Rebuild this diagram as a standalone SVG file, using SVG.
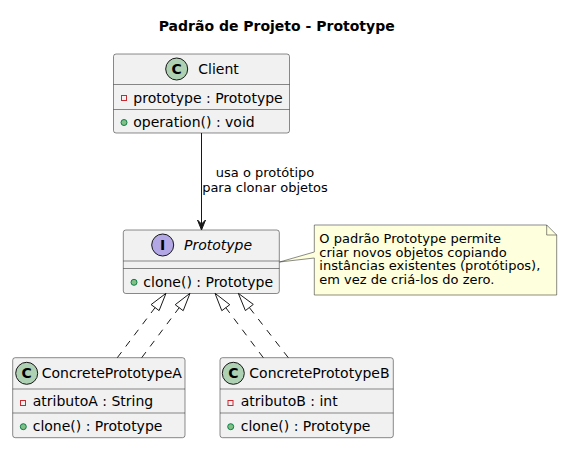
<svg xmlns="http://www.w3.org/2000/svg" width="574" height="465" viewBox="0 0 574 465">
<style>
text{font-family:"DejaVu Sans",sans-serif;fill:#000}
.box{fill:#F1F1F1;stroke:#181818;stroke-width:0.5}
.sep{stroke:#181818;stroke-width:0.5}
.m{font-size:14px}
.t{font-size:14px}
.n{font-size:13px}
.cc{fill:#ADD1B2;stroke:#181818;stroke-width:1}
.ci{fill:#B4A7E5;stroke:#181818;stroke-width:1}
.sym{font-size:14px;font-weight:bold;text-anchor:middle}
.priv{fill:none;stroke:#C82930;stroke-width:1}
.pub{fill:#84BE84;stroke:#038048;stroke-width:1}
.dash{fill:none;stroke:#181818;stroke-width:1;stroke-dasharray:7,7}
.tri{fill:none;stroke:#181818;stroke-width:1}
</style>
<text x="276.7" y="30.5" style="font-size:14px;font-weight:bold;text-anchor:middle">Padrão de Projeto - Prototype</text>

<g id="Client">
<rect class="box" x="113.5" y="54" width="176" height="79" rx="2.5"/>
<circle class="cc" cx="176.7" cy="69" r="11"/>
<text class="sym" x="176.7" y="74">C</text>
<text class="t" x="198.3" y="74">Client</text>
<line class="sep" x1="113.5" y1="84.5" x2="289.5" y2="84.5"/>
<rect class="priv" x="121.5" y="95.5" width="5" height="5"/>
<text class="m" x="133.3" y="103">prototype : Prototype</text>
<line class="sep" x1="113.5" y1="109.5" x2="289.5" y2="109.5"/>
<circle class="pub" cx="124" cy="122.5" r="3"/>
<text class="m" x="133.3" y="127">operation() : void</text>
</g>

<g id="Prototype">
<rect class="box" x="123.3" y="230" width="156" height="63.5" rx="2.5"/>
<circle class="ci" cx="162.7" cy="245" r="11"/>
<text class="sym" x="162.7" y="250">I</text>
<text class="t" x="184" y="250" font-style="italic">Prototype</text>
<line class="sep" x1="123.3" y1="261" x2="279.3" y2="261"/>
<line class="sep" x1="123.3" y1="268.5" x2="279.3" y2="268.5"/>
<circle class="pub" cx="134" cy="282.3" r="3"/>
<text class="m" x="143.3" y="287">clone() : Prototype</text>
</g>

<g id="ConcretePrototypeA">
<rect class="box" x="12.7" y="357.7" width="172.3" height="80" rx="2.5"/>
<circle class="cc" cx="26.7" cy="373.3" r="11"/>
<text class="sym" x="26.7" y="378.3">C</text>
<text class="t" x="41.7" y="378.3">ConcretePrototypeA</text>
<line class="sep" x1="12.7" y1="389" x2="185" y2="389"/>
<rect class="priv" x="20.5" y="400.5" width="5" height="5"/>
<text class="m" x="32.7" y="405.5">atributoA : String</text>
<line class="sep" x1="12.7" y1="413" x2="185" y2="413"/>
<circle class="pub" cx="23.3" cy="426.7" r="3"/>
<text class="m" x="32.7" y="431">clone() : Prototype</text>
</g>

<g id="ConcretePrototypeB">
<rect class="box" x="220" y="357.7" width="173.3" height="80" rx="2.5"/>
<circle class="cc" cx="233.3" cy="373.3" r="11"/>
<text class="sym" x="233.3" y="378.3">C</text>
<text class="t" x="249.3" y="378.3">ConcretePrototypeB</text>
<line class="sep" x1="220" y1="389" x2="393.3" y2="389"/>
<rect class="priv" x="228" y="400.5" width="5" height="5"/>
<text class="m" x="240.7" y="405.5">atributoB : int</text>
<line class="sep" x1="220" y1="413" x2="393.3" y2="413"/>
<circle class="pub" cx="230.7" cy="426.7" r="3"/>
<text class="m" x="240.7" y="431">clone() : Prototype</text>
</g>

<g id="Note">
<path d="M314.3,225 L546.7,225 L556.7,235 L556.7,295 L314.3,295 L314.3,258 L279.5,262 L314.3,252 Z" fill="#FEFFDD" stroke="#181818" stroke-width="0.5"/>
<path d="M546.7,225 L546.7,235 L556.7,235" fill="none" stroke="#181818" stroke-width="0.5"/>
<text class="n" x="319.3" y="243">O padrão Prototype permite</text>
<text class="n" x="319.3" y="256.5">criar novos objetos copiando</text>
<text class="n" x="319.3" y="270">instâncias existentes (protótipos),</text>
<text class="n" x="319.3" y="283.5">em vez de criá-los do zero.</text>
</g>

<g id="connectors">
<line x1="201.5" y1="133" x2="201.5" y2="226" stroke="#181818" stroke-width="1"/>
<polygon points="197.5,220 201.5,230 205.5,220 201.5,224" fill="#181818" stroke="#181818" stroke-width="1"/>
<text class="n" x="265" y="177" text-anchor="middle">usa o protótipo</text>
<text class="n" x="265" y="192" text-anchor="middle">para clonar objetos</text>

<line class="dash" x1="117.3" y1="357.7" x2="155.1" y2="307.6"/>
<polygon class="tri" points="166,293.3 151.1,304.6 159.1,310.6"/>
<line class="dash" x1="141.7" y1="357.7" x2="179.2" y2="307.7"/>
<polygon class="tri" points="190,293.3 175.2,304.7 183.2,310.7"/>
<line class="dash" x1="263.3" y1="357.7" x2="225.8" y2="307.7"/>
<polygon class="tri" points="215,293.3 221.8,310.7 229.8,304.7"/>
<line class="dash" x1="288.3" y1="357.7" x2="249.3" y2="307.5"/>
<polygon class="tri" points="238.3,293.3 253.3,304.4 245.4,310.6"/>
</g>
</svg>
